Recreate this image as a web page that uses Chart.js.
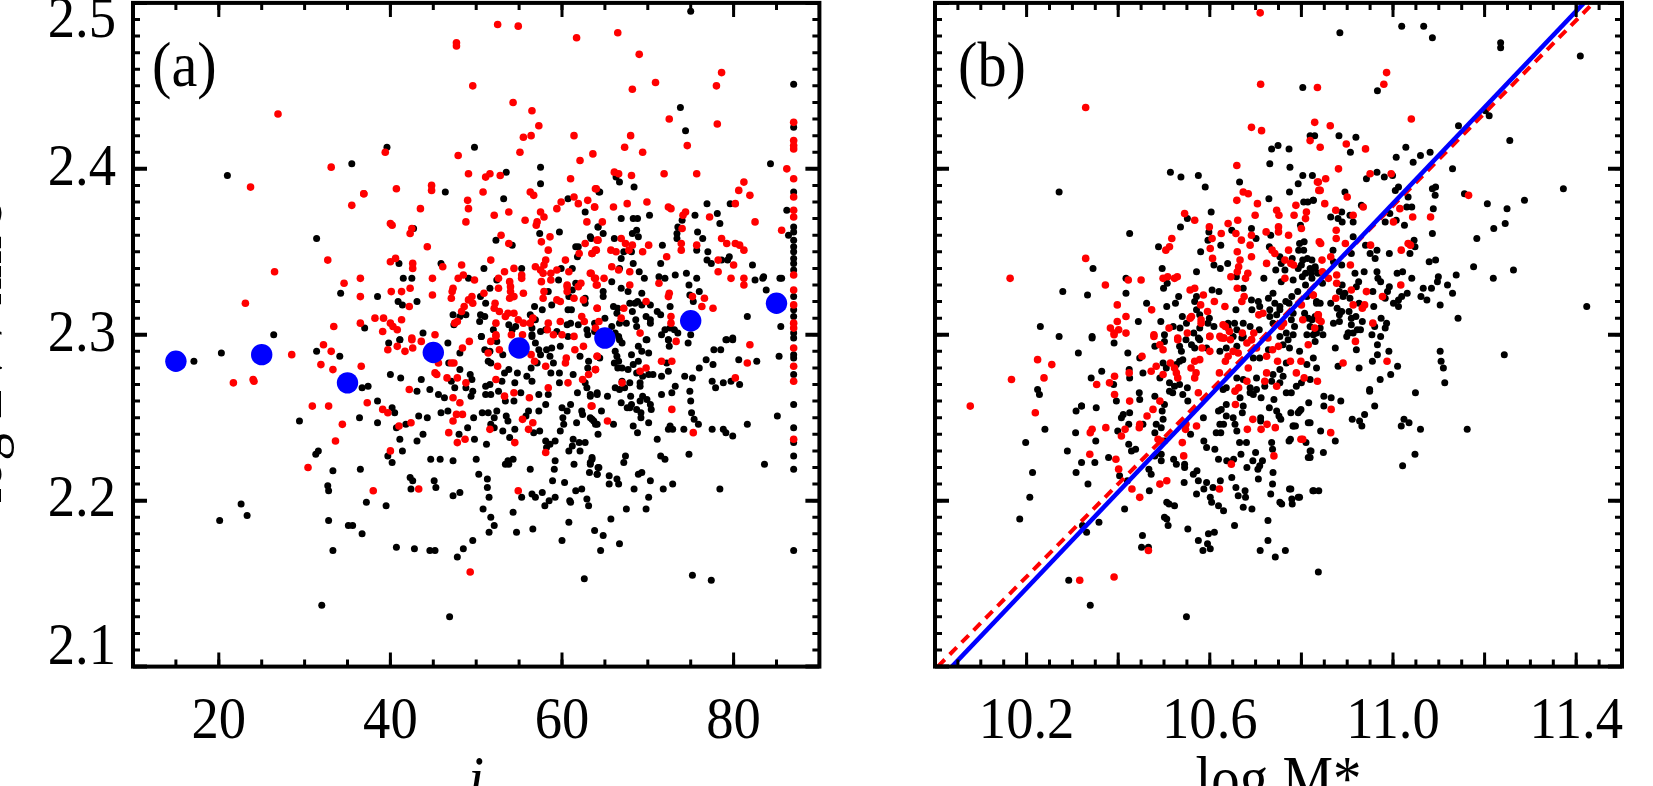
<!DOCTYPE html>
<html>
<head>
<meta charset="utf-8">
<title>log V against inclination and stellar mass</title>
<script src="https://cdn.jsdelivr.net/npm/chart.js@4"></script>
<style>
    html, body { margin: 0; background: #fff; overflow: hidden; width: 1653px; height: 786px; }
    canvas { position: absolute; top: 0; }
    #chartA { left: 0; }
    #chartB { left: 830px; }
</style>
</head>
<body>
<canvas id="chartA" width="830" height="840"></canvas>
<canvas id="chartB" width="823" height="840"></canvas>
<script>
// panel (a): inclination vs log V
const blackA = [
[46.4,2.386],[53.5,2.398],[57.5,2.391],[53.2,2.382],[60.7,2.382],[64.3,2.386],[62.7,2.374],[42.7,2.364],[57.4,2.361],[59.7,2.362],[52.3,2.357],[54.2,2.354],[64.2,2.365],[63.3,2.359],[61.6,2.353],[61.9,2.353],[61.8,2.347],[41.0,2.343],[45.9,2.343],[50.9,2.340],[55.3,2.340],[41.5,2.334],[42.5,2.334],[49.1,2.334],[52.4,2.333],[59.6,2.333],[59.9,2.340],[61.2,2.340],[61.6,2.331],[51.6,2.328],[38.5,2.323],[40.9,2.320],[41.4,2.318],[43.1,2.320],[50.5,2.323],[51.1,2.319],[56.8,2.317],[57.7,2.315],[58.8,2.318],[60.8,2.323],[58.4,2.326],[61.2,2.327],[62.7,2.322],[62.7,2.319],[60.7,2.315],[61.1,2.315],[47.3,2.312],[48.8,2.312],[48.1,2.311],[50.5,2.312],[51.0,2.311],[50.4,2.308],[56.3,2.312],[56.9,2.309],[37.0,2.304],[43.8,2.301],[41.1,2.297],[50.6,2.299],[47.4,2.306],[53.8,2.306],[54.6,2.305],[54.2,2.303],[52.0,2.303],[56.5,2.304],[56.5,2.300],[57.5,2.302],[58.1,2.303],[59.4,2.302],[60.6,2.306],[61.0,2.307],[61.9,2.306],[60.7,2.299],[62.9,2.303],[63.0,2.300],[63.8,2.302],
[66.3,2.395],[66.7,2.392],[68.4,2.389],[64.4,2.386],[76.9,2.379],[79.6,2.379],[87.0,2.386],[86.2,2.375],[78.1,2.373],[75.5,2.372],[70.2,2.372],[66.9,2.370],[68.3,2.370],[68.8,2.370],[74.0,2.369],[78.4,2.367],[73.5,2.365],[64.2,2.365],[75.8,2.362],[68.7,2.363],[68.2,2.361],[68.9,2.359],[64.8,2.361],[63.4,2.358],[66.1,2.358],[73.4,2.361],[73.4,2.358],[76.4,2.358],[71.7,2.354],[86.4,2.360],[87.0,2.365],[87.0,2.362],[87.0,2.357],[87.0,2.353],[87.0,2.350],[87.0,2.346],[87.0,2.343],[87.0,2.339],[87.0,2.323],[87.0,2.315],[87.0,2.311],[87.0,2.301],[75.7,2.351],[77.0,2.350],[67.2,2.350],[68.1,2.350],[66.9,2.346],[68.3,2.343],[71.5,2.343],[79.5,2.347],[79.3,2.345],[78.6,2.345],[76.9,2.345],[77.4,2.343],[82.2,2.342],[66.7,2.340],[69.0,2.338],[74.5,2.337],[73.2,2.336],[71.3,2.335],[72.0,2.334],[69.6,2.334],[65.8,2.332],[75.7,2.334],[74.8,2.330],[82.5,2.333],[83.4,2.334],[83.5,2.335],[85.4,2.334],[85.6,2.334],[83.8,2.327],[66.9,2.328],[67.7,2.326],[64.8,2.326],[64.8,2.323],[69.3,2.325],[76.0,2.326],[74.9,2.324],[75.3,2.320],[67.9,2.319],[68.8,2.320],[68.5,2.319],[69.3,2.318],[70.3,2.318],[72.6,2.317],[66.0,2.317],[66.5,2.316],[66.4,2.313],[68.2,2.314],[71.1,2.314],[71.5,2.312],[65.0,2.310],[69.8,2.311],[70.3,2.309],[68.6,2.309],[81.6,2.311],[66.7,2.307],[67.5,2.307],[63.8,2.307],[68.7,2.305],[70.3,2.307],[85.5,2.305],[65.8,2.305],[66.2,2.301],[66.6,2.299],[72.0,2.303],[71.6,2.300],[72.6,2.304],[73.1,2.303],[73.5,2.301],[75.0,2.300],[69.8,2.297],[72.4,2.297],[79.2,2.297],[79.9,2.298],
[39.8,2.295],[41.1,2.297],[46.7,2.295],[50.6,2.299],[48.1,2.289],[46.8,2.283],[48.1,2.279],[51.0,2.291],[51.6,2.290],[52.4,2.296],[53.1,2.288],[51.4,2.284],[51.7,2.283],[54.8,2.277],[53.8,2.279],[53.3,2.277],[53.0,2.272],[54.5,2.271],[56.9,2.295],[56.5,2.299],[57.3,2.291],[57.5,2.288],[58.2,2.291],[58.8,2.292],[59.8,2.293],[57.1,2.283],[56.4,2.280],[55.9,2.275],[56.5,2.272],[58.7,2.277],[59.7,2.277],[58.6,2.287],[59.0,2.283],[59.7,2.271],[62.1,2.287],[63.1,2.284],[63.0,2.280],[61.3,2.276],[62.7,2.271],[62.9,2.268],[61.8,2.265],[63.3,2.264],[64.1,2.264],[40.0,2.276],[41.2,2.274],[43.6,2.273],[49.3,2.276],[49.5,2.273],[47.1,2.272],[47.5,2.268],[48.8,2.268],[49.6,2.266],[49.4,2.263],[44.6,2.267],[43.1,2.266],[45.6,2.264],[46.3,2.262],[51.1,2.269],[51.6,2.270],[51.1,2.264],[51.7,2.264],[52.6,2.266],[55.2,2.265],[57.3,2.264],[58.4,2.264],[58.1,2.258],[53.4,2.260],[54.4,2.260],[37.4,2.269],[36.7,2.268],[38.5,2.260],[40.2,2.256],[40.5,2.253],[43.3,2.251],[44.3,2.250],[45.9,2.253],[46.7,2.254],[49.7,2.250],[50.7,2.253],[51.4,2.253],[52.4,2.254],[52.1,2.250],[51.7,2.246],[52.1,2.244],[53.5,2.251],[53.7,2.248],[56.1,2.254],[55.8,2.251],[57.3,2.254],[60.0,2.256],[60.6,2.254],[61.0,2.258],[60.1,2.250],[62.3,2.254],[62.4,2.252],[61.7,2.247],[63.5,2.249],[63.9,2.246],[60.2,2.246],[59.8,2.242],[38.5,2.247],[40.7,2.244],[41.8,2.246],[49.0,2.244],[43.8,2.240],[48.0,2.240],[41.1,2.237],[43.1,2.236],[49.8,2.237],[51.2,2.234],[53.1,2.242],[54.5,2.243],[53.9,2.238],[56.7,2.241],[57.4,2.242],[58.1,2.236],[58.6,2.234],[59.2,2.236],[58.2,2.232],[61.3,2.237],[62.0,2.235],[62.7,2.235],[61.2,2.233],[60.8,2.230],[62.1,2.230],[41.4,2.230],[39.7,2.227],[40.2,2.223],[44.7,2.225],[45.8,2.225],[47.3,2.224],[50.0,2.225],[54.3,2.225],[53.7,2.224],[53.4,2.222],[53.8,2.222],[59.2,2.224],[59.1,2.219],[56.3,2.219],[61.4,2.222],[63.5,2.225],[63.3,2.222],[63.2,2.217],[64.2,2.220],[64.1,2.216],[50.3,2.216],[51.3,2.213],[42.3,2.214],[42.6,2.212],[45.1,2.212],[58.9,2.212],[60.3,2.211],[45.3,2.208],[42.4,2.207],[51.3,2.208],[47.3,2.203],[48.1,2.205],[51.5,2.202],[55.3,2.202],[56.5,2.204],[56.9,2.202],[57.7,2.205],[58.5,2.200],[59.2,2.202],[61.6,2.206],[62.3,2.207],[62.9,2.201],[60.9,2.200],[37.2,2.199],[36.5,2.219],
[69.9,2.297],[66.7,2.297],[67.0,2.295],[72.4,2.297],[72.5,2.293],[74.7,2.295],[79.1,2.297],[79.9,2.297],[87.0,2.298],[68.9,2.293],[69.3,2.290],[70.1,2.289],[77.7,2.291],[78.5,2.291],[66.2,2.290],[66.4,2.287],[66.6,2.284],[66.1,2.283],[68.1,2.288],[68.9,2.284],[68.3,2.282],[67.7,2.279],[64.4,2.286],[66.5,2.280],[67.0,2.280],[85.3,2.287],[87.0,2.288],[87.0,2.286],[87.0,2.276],[82.7,2.284],[80.6,2.285],[76.8,2.285],[77.6,2.282],[76.0,2.280],[72.2,2.283],[72.4,2.278],[68.7,2.277],[69.4,2.275],[70.1,2.276],[70.6,2.276],[71.6,2.275],[74.3,2.275],[75.2,2.274],[67.9,2.271],[69.1,2.271],[69.1,2.269],[67.0,2.272],[66.2,2.268],[66.7,2.267],[67.3,2.268],[77.5,2.272],[78.8,2.271],[79.7,2.272],[80.7,2.270],[77.9,2.268],[73.2,2.269],[71.6,2.264],[72.8,2.265],[74.9,2.266],[75.0,2.260],[64.1,2.265],[63.3,2.263],[65.3,2.263],[68.0,2.263],[69.4,2.263],[69.1,2.260],[69.9,2.261],[70.3,2.258],[70.4,2.255],[66.9,2.259],[67.6,2.256],[68.1,2.258],[67.9,2.256],[68.7,2.255],[69.2,2.253],[69.2,2.250],[64.6,2.254],[75.1,2.253],[75.4,2.249],[75.9,2.246],[87.0,2.258],[85.1,2.251],[81.6,2.246],[63.3,2.250],[63.7,2.248],[64.1,2.246],[66.0,2.246],[68.3,2.245],[68.8,2.241],[70.1,2.247],[72.6,2.245],[72.9,2.243],[72.4,2.243],[74.2,2.243],[77.5,2.243],[78.8,2.243],[79.1,2.241],[79.9,2.239],[87.0,2.244],[87.0,2.235],[87.0,2.227],[87.0,2.219],[64.2,2.240],[71.1,2.237],[74.8,2.228],[67.4,2.227],[67.2,2.223],[71.5,2.227],[72.0,2.225],[63.5,2.226],[63.3,2.223],[64.3,2.220],[83.6,2.222],[68.9,2.216],[69.3,2.217],[64.1,2.216],[65.5,2.215],[66.4,2.213],[66.6,2.210],[65.5,2.210],[70.3,2.212],[72.9,2.210],[68.4,2.207],[71.8,2.207],[78.4,2.207],[70.1,2.202],
[75.0,2.495],[87.0,2.451],[73.8,2.437],[74.4,2.423],[87.0,2.425],[39.6,2.413],[49.8,2.413],[57.5,2.401],[84.3,2.403],
[21.0,2.396],[35.5,2.403],[31.4,2.358],[34.2,2.325],[26.4,2.300],[31.4,2.290],[20.3,2.289],[17.1,2.284],[34.1,2.287],
[29.4,2.248],[31.6,2.230],[31.3,2.228],[33.3,2.218],[32.7,2.209],[32.8,2.206],[22.6,2.198],[20.1,2.188],[23.3,2.191],[32.8,2.188],[33.3,2.170],[32.0,2.137],[35.1,2.185],[35.6,2.185],[36.4,2.250],[36.7,2.180],
[39.5,2.197],[40.7,2.172],[42.8,2.171],[44.6,2.170],[45.2,2.170],[47.8,2.166],[48.5,2.171],[49.6,2.176],[51.5,2.181],[52.1,2.185],[51.7,2.190],[50.8,2.195],[54.7,2.181],[56.6,2.183],[54.3,2.193],[58.0,2.197],[60.0,2.176],[60.8,2.187],[61.0,2.199],[63.1,2.197],[63.8,2.182],[64.8,2.179],[65.7,2.189],[66.7,2.174],[64.5,2.170],[67.5,2.195],[69.8,2.195],[46.9,2.130],[62.6,2.153],[75.2,2.155],[77.4,2.152],[87.0,2.170]
];
const redA = [
[36.9,2.385],[40.7,2.388],[44.8,2.390],[44.8,2.387],[49.1,2.397],[51.1,2.395],[51.6,2.397],[52.8,2.396],[50.8,2.386],[43.5,2.376],[49.0,2.381],[49.1,2.376],[52.1,2.372],[53.8,2.374],[48.8,2.368],[40.0,2.367],[40.2,2.366],[42.5,2.364],[42.3,2.361],[44.3,2.353],[52.9,2.360],[53.8,2.355],[55.7,2.369],[56.3,2.386],[56.7,2.384],[61.0,2.394],[64.0,2.388],[61.4,2.383],[61.9,2.379],[59.9,2.380],[59.4,2.376],[63.0,2.381],[63.8,2.377],[57.5,2.374],[57.9,2.371],[57.1,2.368],[57.0,2.366],[62.9,2.368],[58.6,2.359],[57.6,2.356],[64.1,2.357],[62.7,2.355],[58.4,2.351],[62.0,2.349],[64.0,2.351],[63.5,2.349],[60.4,2.345],[58.1,2.345],[57.9,2.342],[56.9,2.341],[57.5,2.339],[57.8,2.337],[59.4,2.339],[58.7,2.337],[60.8,2.338],[51.7,2.345],[48.3,2.342],[46.1,2.341],[40.0,2.344],[40.6,2.346],[42.6,2.343],[42.6,2.340],[44.9,2.334],[47.9,2.334],[48.5,2.336],[49.8,2.333],[53.3,2.338],[54.4,2.340],[55.3,2.336],[55.3,2.334],[52.6,2.334],[53.9,2.332],[54.0,2.329],[57.6,2.332],[58.7,2.333],[60.6,2.330],[62.2,2.331],[61.9,2.329],[63.3,2.337],[63.8,2.334],[64.1,2.330],[42.3,2.328],[40.1,2.326],[41.3,2.326],[44.9,2.324],[47.3,2.328],[47.2,2.326],[47.1,2.322],[52.6,2.328],[54.0,2.326],[53.9,2.322],[54.4,2.323],[55.5,2.325],[57.9,2.326],[57.8,2.322],[60.6,2.329],[60.6,2.326],[59.4,2.321],[59.8,2.320],[61.4,2.322],[62.5,2.321],[64.1,2.316],[50.9,2.325],[49.5,2.323],[49.1,2.321],[49.6,2.319],[48.6,2.317],[48.3,2.314],[52.2,2.319],[52.1,2.316],[52.7,2.314],[53.4,2.311],[53.7,2.313],[54.4,2.313],[42.2,2.317],[38.2,2.310],[39.2,2.310],[41.3,2.309],[40.0,2.307],[40.3,2.305],[40.8,2.303],[39.1,2.302],[45.2,2.300],[42.5,2.298],[47.8,2.308],[47.5,2.307],[52.3,2.307],[54.9,2.309],[55.5,2.307],[56.6,2.310],[56.3,2.307],[58.4,2.307],[59.8,2.308],[62.3,2.311],[62.6,2.308],[58.3,2.303],[59.0,2.300],[60.0,2.300],[61.4,2.299],[52.3,2.300],[54.1,2.300],[55.4,2.300],[36.5,2.334],[36.5,2.323],[36.5,2.307],
[66.1,2.398],[66.6,2.397],[68.1,2.396],[71.9,2.397],[75.7,2.397],[87.0,2.394],[63.9,2.388],[81.2,2.392],[80.6,2.387],[81.9,2.384],[67.6,2.379],[69.9,2.380],[66.0,2.377],[63.8,2.377],[72.4,2.377],[72.7,2.376],[74.4,2.374],[74.1,2.372],[77.2,2.371],[80.2,2.379],[87.0,2.383],[87.0,2.375],[87.0,2.371],[64.7,2.368],[82.5,2.368],[85.6,2.363],[74.0,2.364],[64.2,2.357],[66.9,2.358],[67.4,2.355],[67.8,2.351],[68.2,2.354],[65.7,2.351],[66.3,2.350],[63.9,2.351],[63.5,2.349],[69.4,2.350],[70.1,2.354],[73.9,2.355],[73.9,2.351],[75.7,2.354],[78.6,2.358],[79.2,2.355],[80.2,2.355],[80.7,2.354],[81.2,2.351],[72.2,2.347],[78.2,2.345],[80.0,2.342],[65.8,2.341],[66.6,2.339],[67.9,2.338],[78.2,2.338],[79.7,2.334],[81.2,2.334],[81.2,2.330],[87.0,2.336],[63.4,2.337],[63.9,2.334],[64.9,2.334],[64.0,2.330],[67.9,2.330],[71.3,2.331],[87.0,2.327],[72.5,2.325],[72.4,2.323],[75.2,2.323],[76.6,2.322],[76.3,2.317],[77.6,2.316],[87.0,2.318],[69.8,2.320],[67.2,2.316],[64.1,2.316],[72.7,2.311],[72.7,2.307],[66.9,2.310],[64.3,2.308],[87.0,2.307],[87.0,2.304],[63.9,2.304],[69.1,2.301],
[39.7,2.291],[40.8,2.293],[41.7,2.290],[42.6,2.292],[42.5,2.297],[43.6,2.296],[49.2,2.296],[48.4,2.292],[47.1,2.283],[47.4,2.283],[45.6,2.283],[45.2,2.277],[45.4,2.276],[46.6,2.274],[47.8,2.274],[48.8,2.271],[42.2,2.267],[36.6,2.281],[37.3,2.259],[39.1,2.255],[39.7,2.253],[42.4,2.247],[41.0,2.245],[47.3,2.262],[48.1,2.259],[47.7,2.252],[48.4,2.252],[47.3,2.248],[46.8,2.241],[48.7,2.237],[47.8,2.235],[40.0,2.230],[38.0,2.206],[43.3,2.207],[54.9,2.206],[51.6,2.243],[54.5,2.235],[55.4,2.249],[56.6,2.247],[56.1,2.243],[58.1,2.229],[53.3,2.263],[54.4,2.265],[56.2,2.262],[52.3,2.273],[58.4,2.268],[52.5,2.281],[51.4,2.289],[52.7,2.291],[51.7,2.296],[52.3,2.299],[56.4,2.288],[56.8,2.284],[58.1,2.281],[60.4,2.283],[60.5,2.286],[61.5,2.291],[62.5,2.293],[64.1,2.287],[63.9,2.279],[63.1,2.276],[62.4,2.273],[60.7,2.271],[63.5,2.257],
[73.3,2.296],[81.9,2.294],[87.0,2.292],[87.0,2.281],[87.0,2.272],[87.0,2.237],[64.1,2.287],[71.6,2.284],[72.8,2.284],[81.6,2.283],[69.1,2.278],[69.8,2.280],[63.9,2.279],[80.2,2.274],[67.0,2.271],[63.4,2.257],[72.8,2.255],[65.3,2.248],[75.3,2.241],
[52.5,2.487],[54.9,2.486],[47.7,2.476],[47.7,2.474],[61.7,2.479],[66.5,2.482],[69.0,2.469],[78.6,2.458],[78.0,2.450],[70.9,2.452],[68.2,2.448],[49.6,2.450],[54.3,2.440],[56.5,2.435],[57.3,2.426],[26.9,2.433],[55.5,2.419],[56.4,2.420],[61.4,2.420],[68.0,2.420],[72.5,2.430],[78.1,2.427],[74.6,2.414],[67.3,2.413],[69.4,2.410],[63.6,2.409],[62.1,2.405],[47.9,2.408],[55.1,2.410],[39.4,2.410],[87.0,2.428],[87.0,2.417],[87.0,2.414],[87.0,2.412],[86.2,2.400],[33.1,2.401],[23.7,2.389],[36.9,2.385],[35.5,2.378],
[26.5,2.338],[23.1,2.319],[28.5,2.288],[21.7,2.271],[24.0,2.273],[24.1,2.272],[33.4,2.305],[32.7,2.345],[32.2,2.294],[33.1,2.290],[31.9,2.282],[33.3,2.279],[34.6,2.331],[30.9,2.257],[32.8,2.257],[34.4,2.246],[33.6,2.236],[30.4,2.220],[49.3,2.157]
];
const binIncl = [15, 25, 35, 45, 55, 65, 75, 85];
const binLogV = [2.284, 2.288, 2.271, 2.2893, 2.292, 2.298, 2.3084, 2.319];

// panel (b): log M* vs log V
const blackB = [
[10.425,2.361],[10.345,2.340],[10.333,2.324],[10.417,2.334],[10.417,2.325],[10.343,2.299],[10.444,2.308],[10.462,2.319],[10.488,2.353],[10.514,2.398],[10.537,2.395],[10.575,2.396],[10.590,2.389],[10.551,2.370],[10.536,2.365],[10.603,2.374],[10.598,2.362],[10.596,2.357],[10.624,2.354],[10.580,2.350],[10.496,2.340],[10.571,2.338],[10.507,2.331],[10.499,2.328],[10.532,2.323],[10.525,2.319],[10.506,2.317],[10.493,2.308],[10.571,2.323],[10.567,2.320],[10.571,2.315],[10.605,2.327],[10.620,2.326],[10.639,2.343],[10.609,2.342],[10.623,2.340],[10.648,2.363],[10.701,2.358],[10.691,2.364],[10.665,2.392],[10.729,2.382],[10.774,2.386],[10.793,2.391],[10.803,2.396],[10.824,2.396],[10.805,2.380],[10.814,2.380],[10.826,2.381],[10.798,2.366],[10.733,2.360],[10.730,2.353],[10.753,2.347],[10.756,2.343],[10.744,2.339],[10.764,2.339],[10.718,2.334],[10.756,2.332],[10.782,2.333],[10.796,2.355],[10.806,2.356],[10.794,2.351],[10.805,2.351],[10.780,2.346],[10.803,2.345],[10.813,2.346],[10.800,2.342],[10.793,2.340],[10.819,2.340],[10.830,2.341],[10.809,2.337],[10.822,2.337],[10.802,2.335],[10.836,2.337],[10.673,2.328],[10.658,2.335],[10.691,2.321],[10.706,2.320],[10.709,2.317],[10.692,2.315],[10.657,2.315],[10.728,2.322],[10.738,2.325],[10.742,2.319],[10.731,2.315],[10.753,2.315],[10.731,2.311],[10.746,2.312],[10.738,2.307],[10.779,2.323],[10.766,2.320],[10.753,2.317],[10.773,2.319],[10.792,2.326],[10.809,2.330],[10.812,2.323],[10.782,2.313],[10.807,2.313],[10.815,2.310],[10.833,2.320],[10.778,2.309],[10.785,2.305],[10.819,2.305],[10.830,2.301],[10.540,2.311],[10.549,2.307],[10.520,2.305],[10.535,2.304],[10.578,2.312],[10.599,2.310],[10.596,2.307],[10.609,2.305],[10.578,2.304],[10.565,2.301],[10.575,2.298],[10.501,2.300],[10.640,2.307],[10.654,2.307],[10.673,2.307],[10.640,2.304],[10.659,2.303],[10.688,2.305],[10.708,2.303],[10.673,2.299],[10.651,2.299],[10.782,2.300],[10.767,2.301],[10.753,2.299],[10.812,2.300],[10.826,2.300],
[10.343,2.298],[10.391,2.295],[10.421,2.289],[10.447,2.286],[10.480,2.293],[10.501,2.296],[10.534,2.293],[10.538,2.290],[10.548,2.297],[10.560,2.294],[10.567,2.292],[10.578,2.297],[10.593,2.292],[10.636,2.292],[10.622,2.290],[10.670,2.298],[10.659,2.293],[10.534,2.284],[10.541,2.285],[10.527,2.282],[10.498,2.283],[10.505,2.280],[10.491,2.274],[10.512,2.271],[10.523,2.269],[10.534,2.270],[10.512,2.266],[10.519,2.265],[10.551,2.268],[10.541,2.264],[10.552,2.260],[10.364,2.278],[10.341,2.274],[10.424,2.279],[10.425,2.274],[10.454,2.277],[10.390,2.270],[10.396,2.260],[10.320,2.257],[10.352,2.256],[10.446,2.265],[10.447,2.261],[10.480,2.263],[10.501,2.258],[10.425,2.253],[10.411,2.252],[10.407,2.250],[10.423,2.246],[10.454,2.246],[10.496,2.254],[10.498,2.249],[10.483,2.246],[10.494,2.244],[10.480,2.241],[10.399,2.242],[10.351,2.236],[10.423,2.234],[10.429,2.230],[10.438,2.231],[10.379,2.226],[10.349,2.223],[10.320,2.223],[10.501,2.236],[10.480,2.227],[10.494,2.228],[10.494,2.224],[10.521,2.225],[10.527,2.222],[10.545,2.222],[10.545,2.220],[10.467,2.219],[10.472,2.216],[10.334,2.210],[10.403,2.215],[10.420,2.212],[10.468,2.206],[10.544,2.211],[10.564,2.216],[10.572,2.218],[10.575,2.212],[10.593,2.211],[10.587,2.207],[10.571,2.204],[10.607,2.208],[10.601,2.202],[10.623,2.212],[10.648,2.214],[10.657,2.208],[10.662,2.203],[10.677,2.206],[10.678,2.202],[10.706,2.213],[10.737,2.210],[10.733,2.204],[10.774,2.207],[10.825,2.206],[10.793,2.202],[10.779,2.201],[10.753,2.199],[10.506,2.199],[10.587,2.236],[10.593,2.232],[10.611,2.231],[10.558,2.240],[10.586,2.250],[10.619,2.254],[10.636,2.258],[10.625,2.255],[10.636,2.251],[10.651,2.250],[10.655,2.246],[10.659,2.242],[10.622,2.246],[10.630,2.246],[10.614,2.241],[10.624,2.241],[10.673,2.257],[10.671,2.253],[10.665,2.235],[10.680,2.235],[10.668,2.228],[10.652,2.225],[10.637,2.224],[10.619,2.225],[10.700,2.229],[10.694,2.224],[10.715,2.224],[10.709,2.221],[10.705,2.219],[10.681,2.220],[10.735,2.235],[10.737,2.231],[10.773,2.236],[10.810,2.235],[10.819,2.230],[10.815,2.226],[10.738,2.217],[10.740,2.261],[10.730,2.256],[10.746,2.254],[10.751,2.251],[10.755,2.249],[10.777,2.253],[10.796,2.254],[10.793,2.253],[10.816,2.259],[10.815,2.247],[10.782,2.245],[10.787,2.245],[10.711,2.250],[10.711,2.248],[10.636,2.268],[10.629,2.267],[10.659,2.274],[10.673,2.273],[10.666,2.262],[10.688,2.265],[10.695,2.264],[10.712,2.262],[10.702,2.267],[10.688,2.268],[10.735,2.272],[10.753,2.279],[10.767,2.283],[10.709,2.286],[10.695,2.286],[10.728,2.291],[10.702,2.274],[10.720,2.269],[10.738,2.276],[10.753,2.271],[10.760,2.275],[10.767,2.265],[10.778,2.265],[10.789,2.269],[10.800,2.271],[10.819,2.273],[10.833,2.280],[10.812,2.282],[10.826,2.286],[10.796,2.290],[10.771,2.297],[10.760,2.294],[10.774,2.292],[10.830,2.296],
[10.942,2.394],[10.965,2.398],[10.981,2.395],[10.999,2.396],[11.012,2.389],[11.005,2.387],[11.093,2.389],[11.086,2.388],[11.092,2.384],[11.156,2.385],[11.206,2.379],[11.249,2.376],[11.287,2.381],[11.245,2.367],[11.220,2.364],[11.183,2.358],[11.086,2.361],[11.079,2.344],[11.093,2.345],[11.176,2.341],[11.263,2.339],[11.219,2.334],[11.138,2.336],[11.099,2.335],[11.097,2.332],[11.119,2.330],[11.084,2.328],[11.066,2.328],[11.130,2.325],[11.061,2.323],[11.074,2.321],[11.103,2.318],[11.142,2.310],[11.041,2.334],[11.009,2.337],[11.021,2.338],[10.965,2.338],[10.967,2.334],[10.973,2.332],[11.030,2.377],[11.041,2.377],[11.088,2.376],[11.025,2.366],[11.033,2.383],[10.993,2.373],[10.983,2.368],[11.007,2.369],[11.046,2.357],[11.048,2.353],[11.037,2.349],[10.992,2.349],[10.965,2.351],[10.950,2.349],[10.961,2.346],[10.940,2.354],[10.913,2.359],[10.895,2.386],[10.826,2.381],[10.931,2.378],[10.888,2.374],[10.864,2.371],[10.880,2.370],[10.889,2.368],[10.906,2.372],[10.913,2.368],[10.909,2.349],[10.869,2.351],[10.888,2.342],[10.870,2.344],[10.823,2.345],[10.830,2.340],[10.823,2.334],[10.917,2.337],[10.937,2.338],[10.925,2.332],[10.920,2.329],[10.846,2.331],[10.889,2.330],[10.883,2.326],[10.895,2.325],[10.906,2.322],[10.891,2.323],[10.956,2.326],[10.992,2.329],[10.988,2.326],[10.983,2.322],[11.031,2.325],[11.019,2.323],[11.012,2.321],[11.001,2.319],[11.012,2.317],[10.926,2.319],[10.958,2.317],[10.864,2.319],[10.833,2.319],[10.841,2.319],[10.878,2.316],[10.888,2.314],[10.883,2.312],[10.904,2.314],[10.919,2.311],[10.909,2.310],[10.933,2.308],[10.909,2.306],[10.922,2.303],[10.870,2.307],[10.883,2.308],[10.974,2.310],[10.986,2.307],[10.983,2.304],[10.960,2.305],[10.929,2.303],[10.954,2.300],[10.973,2.299],[10.902,2.301],[10.913,2.301],[10.899,2.299],[10.847,2.300],[10.833,2.301],[10.841,2.304],[10.823,2.309],[10.830,2.311],
[11.019,2.486],[11.067,2.486],[11.086,2.479],[10.884,2.482],[11.235,2.476],[11.235,2.473],[11.409,2.468],[10.803,2.449],[10.966,2.447],[11.202,2.435],[11.210,2.432],[11.143,2.426],[11.255,2.417],[10.819,2.420],[10.829,2.420],[10.882,2.420],[10.919,2.419],[10.907,2.410],[10.735,2.412],[10.749,2.414],[10.773,2.412],[10.731,2.403],[10.775,2.401],[11.028,2.413],[11.007,2.407],[11.044,2.404],[11.060,2.408],[11.081,2.410],[11.130,2.400],[11.372,2.388],[11.423,2.317],
[10.271,2.386],[10.279,2.326],[10.230,2.305],[10.271,2.299],[10.313,2.289],[10.224,2.267],[10.228,2.264],[10.198,2.235],[10.240,2.243],[10.213,2.217],[10.207,2.202],[10.185,2.189],[10.308,2.254],[10.320,2.257],[10.307,2.241],[10.289,2.230],[10.308,2.217],
[10.358,2.187],[10.322,2.185],[10.331,2.181],[10.414,2.195],[10.453,2.179],[10.451,2.172],[10.466,2.172],[10.292,2.152],[10.339,2.137],[10.549,2.130],[10.511,2.198],[10.523,2.197],[10.501,2.190],[10.506,2.189],[10.509,2.185],[10.552,2.183],[10.575,2.176],[10.597,2.180],[10.610,2.181],[10.595,2.174],[10.601,2.171],[10.585,2.170],[10.604,2.199],[10.619,2.197],[10.630,2.194],[10.673,2.196],[10.692,2.195],[10.654,2.185],[10.727,2.188],[10.727,2.176],[10.710,2.170],[10.743,2.166],[10.765,2.170],[10.757,2.198],[10.780,2.198],[10.837,2.157],
[10.874,2.236],[10.848,2.229],[10.842,2.242],[10.821,2.230],[10.819,2.226],[10.886,2.260],[10.938,2.252],[10.949,2.266],[10.960,2.257],[10.911,2.249],[10.927,2.248],[10.932,2.245],[11.018,2.245],[11.024,2.249],[11.035,2.247],[11.060,2.243],[11.048,2.228],[11.021,2.221],[11.162,2.243],[11.049,2.265],[10.849,2.257],[10.865,2.262],[10.849,2.263],[10.776,2.237],[10.782,2.245],[10.799,2.255],[10.819,2.247],[10.827,2.206],[10.838,2.206],[10.796,2.202],[10.777,2.207],
[11.243,2.288],[11.103,2.290],[11.105,2.284],[11.110,2.280],[11.113,2.271],[10.991,2.290],[10.966,2.294],[10.955,2.284],[10.966,2.288],[11.010,2.281],[10.995,2.276],[10.972,2.273],[10.949,2.267],[10.874,2.292],[10.903,2.301],[10.926,2.280],[10.920,2.291],[10.880,2.281]
];
const redB = [
[10.329,2.346],[10.372,2.330],[10.422,2.333],[10.450,2.333],[10.398,2.318],[10.417,2.311],[10.398,2.308],[10.383,2.304],[10.401,2.303],[10.391,2.301],[10.417,2.301],[10.473,2.315],[10.478,2.300],[10.517,2.358],[10.512,2.353],[10.504,2.351],[10.545,2.373],[10.567,2.369],[10.498,2.334],[10.508,2.335],[10.523,2.334],[10.529,2.335],[10.557,2.327],[10.567,2.328],[10.586,2.324],[10.580,2.318],[10.610,2.320],[10.633,2.317],[10.595,2.314],[10.560,2.311],[10.557,2.310],[10.581,2.309],[10.581,2.307],[10.511,2.304],[10.551,2.301],[10.530,2.298],[10.600,2.299],[10.629,2.306],[10.634,2.305],[10.643,2.302],[10.622,2.299],[10.630,2.298],[10.671,2.301],[10.696,2.301],[10.691,2.297],[10.727,2.298],[10.707,2.312],[10.716,2.313],[10.670,2.320],[10.675,2.323],[10.660,2.328],[10.678,2.334],[10.683,2.337],[10.660,2.338],[10.663,2.341],[10.666,2.345],[10.646,2.335],[10.606,2.346],[10.601,2.352],[10.605,2.358],[10.599,2.365],[10.625,2.361],[10.640,2.367],[10.661,2.369],[10.657,2.361],[10.669,2.357],[10.660,2.350],[10.688,2.354],[10.691,2.347],[10.691,2.360],[10.723,2.362],[10.699,2.372],[10.704,2.379],[10.659,2.381],[10.673,2.386],[10.684,2.385],[10.746,2.375],[10.751,2.372],[10.750,2.365],[10.750,2.362],[10.772,2.360],[10.772,2.351],[10.736,2.351],[10.742,2.349],[10.724,2.343],[10.764,2.345],[10.777,2.343],[10.783,2.342],[10.764,2.334],[10.784,2.372],[10.788,2.378],[10.811,2.374],[10.809,2.370],[10.800,2.364],[10.835,2.392],[10.838,2.387],[10.839,2.356],[10.826,2.324],[10.800,2.318],[10.803,2.309],[10.761,2.307],[10.756,2.305],[10.836,2.312],[10.838,2.309],
[10.391,2.300],[10.478,2.299],[10.530,2.297],[10.491,2.294],[10.498,2.291],[10.452,2.287],[10.583,2.292],[10.600,2.290],[10.600,2.299],[10.625,2.298],[10.631,2.298],[10.645,2.297],[10.681,2.295],[10.691,2.297],[10.702,2.292],[10.651,2.290],[10.662,2.289],[10.640,2.287],[10.634,2.284],[10.567,2.284],[10.578,2.285],[10.559,2.280],[10.570,2.277],[10.567,2.274],[10.514,2.283],[10.523,2.280],[10.527,2.277],[10.530,2.274],[10.483,2.281],[10.472,2.278],[10.498,2.276],[10.392,2.275],[10.424,2.277],[10.381,2.271],[10.353,2.270],[10.392,2.264],[10.425,2.260],[10.491,2.260],[10.476,2.255],[10.463,2.251],[10.447,2.246],[10.446,2.244],[10.415,2.243],[10.373,2.244],[10.343,2.243],[10.339,2.241],[10.407,2.239],[10.338,2.228],[10.395,2.225],[10.401,2.219],[10.430,2.207],[10.447,2.202],[10.491,2.210],[10.506,2.212],[10.487,2.237],[10.494,2.236],[10.540,2.235],[10.543,2.227],[10.571,2.245],[10.548,2.246],[10.547,2.243],[10.575,2.265],[10.656,2.258],[10.655,2.266],[10.663,2.268],[10.621,2.277],[10.647,2.222],[10.621,2.207],[10.694,2.249],[10.682,2.243],[10.712,2.243],[10.725,2.246],[10.743,2.244],[10.799,2.237],[10.740,2.227],[10.684,2.280],[10.681,2.272],[10.724,2.277],[10.720,2.272],[10.746,2.269],[10.789,2.277],[10.806,2.274],[10.835,2.272],[10.724,2.287],[10.748,2.284],[10.776,2.284],[10.799,2.284],[10.737,2.291],[10.750,2.293],[10.815,2.294],
[10.950,2.397],[10.996,2.397],[10.837,2.392],[10.853,2.394],[10.841,2.387],[10.900,2.383],[10.851,2.379],[10.935,2.377],[10.875,2.375],[10.913,2.372],[10.876,2.363],[10.876,2.358],[10.842,2.355],[10.896,2.355],[10.951,2.354],[11.015,2.376],[11.043,2.371],[11.082,2.371],[11.001,2.368],[11.165,2.384],[11.018,2.351],[11.033,2.355],[11.038,2.354],[10.864,2.347],[10.845,2.345],[10.907,2.342],[10.846,2.338],[10.877,2.336],[10.877,2.331],[10.859,2.334],[10.909,2.327],[11.017,2.330],[10.942,2.326],[10.977,2.323],[10.875,2.322],[10.825,2.324],[10.913,2.318],[10.938,2.318],[10.933,2.316],[10.956,2.307],[10.837,2.312],[10.843,2.308],[10.829,2.304],
[10.710,2.494],[10.711,2.451],[10.835,2.449],[10.986,2.458],[10.980,2.451],[10.329,2.437],[11.040,2.430],[10.829,2.428],[10.863,2.426],[10.691,2.425],[10.713,2.423],[10.819,2.417],[10.841,2.413],[10.898,2.415],[10.940,2.412],[10.659,2.402],[10.881,2.400],
[10.164,2.334],[10.167,2.273],[10.224,2.285],[10.255,2.282],[10.238,2.274],[10.077,2.257],[10.219,2.253],[10.466,2.170],[10.316,2.152],[10.391,2.154],[10.865,2.255],[10.864,2.241],[10.803,2.237],[10.987,2.284],[10.918,2.296],[10.891,2.283]
];

// fit lines in panel (b), two ends each
const fitBlueMass = [10.037, 11.417];
const fitRedMass = [10.006, 11.4375];
const fitLogV = [2.1, 2.5];

const yTicks = [2.1, 2.2, 2.3, 2.4, 2.5];
const yTickLabels = [['2.1', ''], '2.2', '2.3', '2.4', ['', '2.5']];
const xTicksA = [20, 40, 60, 80];
const xTickLabelsA = ['20', '40', '60', '80'];
const xTicksB = [10.2, 10.6, 11.0, 11.4];
const xTickLabelsB = ['10.2', '10.6', '11.0', '11.4'];

const serif = 'Liberation Serif';
const textSqueeze = 0.91;   // the original's type is narrower than Liberation Serif

function range(from, to, step) {
    const out = [];
    for (let i = 0; from + i * step <= to + 1e-9; i++) out.push(from + i * step);
    return out;
}

const pairs = (list) => list.map(p => ({x: p[0], y: p[1]}));
const zip = (xs, ys) => xs.map((x, i) => ({x: x, y: ys[i]}));

// inward ticks on all four sides and the heavy frame
const framePlugin = {
    id: 'frame',
    afterDraw(chart, args, opts) {
        const {ctx, chartArea: a, scales: {x, y}} = chart;
        ctx.save();
        ctx.strokeStyle = '#000';
        const mark = (values, len, w, horizontal) => {
            ctx.lineWidth = w;
            ctx.beginPath();
            values.forEach(v => {
                if (horizontal) {
                    const px = x.getPixelForValue(v);
                    ctx.moveTo(px, a.bottom); ctx.lineTo(px, a.bottom - len);
                    ctx.moveTo(px, a.top); ctx.lineTo(px, a.top + len);
                } else {
                    const py = y.getPixelForValue(v);
                    ctx.moveTo(a.left, py); ctx.lineTo(a.left + len, py);
                    ctx.moveTo(a.right, py); ctx.lineTo(a.right - len, py);
                }
            });
            ctx.stroke();
        };
        mark(opts.xMinor, 7, 3, true);
        mark(opts.xMajor, 14, 3, true);
        mark(range(2.1, 2.5, 0.01), 7, 3, false);
        mark(yTicks, 14, 4, false);
        ctx.lineWidth = 4;
        ctx.strokeRect(a.left, a.top, a.right - a.left, a.bottom - a.top);
        ctx.fillStyle = '#000';
        ctx.font = '64px "' + serif + '"';
        ctx.textAlign = 'left';
        ctx.textBaseline = 'alphabetic';
        ctx.fillText(opts.panel, a.left + opts.panelDx, 86);
        ctx.restore();
    }
};

function makeChart(id, datasets, o) {
    const canvas = document.getElementById(id);
    const c2d = canvas.getContext('2d');
    const fill = c2d.fillText.bind(c2d);
    c2d.fillText = (t, x, y) => {
        c2d.save();
        c2d.translate(x, y);
        c2d.scale(textSqueeze, 1);
        fill(t, 0, 0);
        c2d.restore();
    };
    return new Chart(canvas, {
        type: 'scatter',
        data: {datasets: datasets},
        options: {
            responsive: false,
            animation: false,
            devicePixelRatio: 1,
            layout: {autoPadding: false, padding: {top: 2.9, right: o.right, bottom: 0, left: 0}},
            plugins: {
                legend: {display: false},
                tooltip: {enabled: false},
                frame: o.frame
            },
            scales: {
                x: {
                    type: 'linear',
                    min: o.xMin,
                    max: o.xMax,
                    grid: {display: false},
                    border: {display: false},
                    afterBuildTicks: s => { s.ticks = o.xTicks.map(v => ({value: v})); },
                    afterFit: s => {
                        s.height = 840 - 666.6;
                        s.paddingLeft = s.paddingRight = 0;
                    },
                    ticks: {
                        autoSkip: false,
                        maxRotation: 0,
                        padding: 12,
                        color: '#000',
                        font: {family: serif, size: 60},
                        callback: (v, i) => o.xLabels[i]
                    },
                    title: {
                        display: true,
                        text: o.xTitle,
                        color: '#000',
                        padding: {top: 0, bottom: 25},
                        font: {family: serif, size: 62.5, style: o.xTitleStyle, lineHeight: 1}
                    }
                },
                y: {
                    type: 'linear',
                    min: 2.1,
                    max: 2.5,
                    grid: {display: false},
                    border: {display: false},
                    afterBuildTicks: s => { s.ticks = yTicks.map(v => ({value: v})); },
                    afterFit: s => {
                        s.width = o.left;
                        s.paddingTop = s.paddingBottom = 0;
                    },
                    ticks: {
                        display: o.showY,
                        autoSkip: false,
                        padding: 9,
                        color: '#000',
                        font: {family: serif, size: 60, lineHeight: 0.6},
                        callback: (v, i) => yTickLabels[i]
                    },
                    title: {
                        display: o.showY,
                        text: 'log \u03A3V / km s\u207B\u00B9',
                        color: '#000',
                        padding: {top: -45, bottom: 0},
                        font: {family: serif, size: 60, lineHeight: 1}
                    }
                }
            }
        },
        plugins: [framePlugin]
    });
}

const dots = (list, color, r, order) => ({
    data: pairs(list),
    pointRadius: r,
    pointBackgroundColor: color,
    pointBorderWidth: 0,
    order: order
});

makeChart('chartA', [
    {data: zip(binIncl, binLogV), pointRadius: 10.7, pointBackgroundColor: '#0000ff', pointBorderWidth: 0, order: 0},
    dots(redA, '#ff0000', 3.8, 1),
    dots(blackA, '#000000', 3.5, 2)
], {
    left: 133, right: 10.6, xMin: 10, xMax: 90,
    xTicks: xTicksA, xLabels: xTickLabelsA,
    xTitle: 'i', xTitleStyle: 'italic', showY: true,
    frame: {panel: '(a)', panelDx: 19, xMajor: xTicksA, xMinor: range(10, 90, 5)}
});

makeChart('chartB', [
    {data: zip(fitBlueMass, fitLogV), showLine: true, borderColor: '#0000ff', borderWidth: 4.5, pointRadius: 0, order: 0},
    {data: zip(fitRedMass, fitLogV), showLine: true, borderColor: '#ff0000', borderWidth: 4, borderDash: [10, 7], pointRadius: 0, order: 1},
    dots(redB, '#ff0000', 3.8, 2),
    dots(blackB, '#000000', 3.5, 3)
], {
    left: 105, right: 31, xMin: 10, xMax: 11.5,
    xTicks: xTicksB, xLabels: xTickLabelsB,
    xTitle: 'log M*', xTitleStyle: 'normal', showY: false,
    frame: {panel: '(b)', panelDx: 23, xMajor: range(10, 11.5, 0.2), xMinor: range(10, 11.5, 0.05)}
});
</script>
</body>
</html>
